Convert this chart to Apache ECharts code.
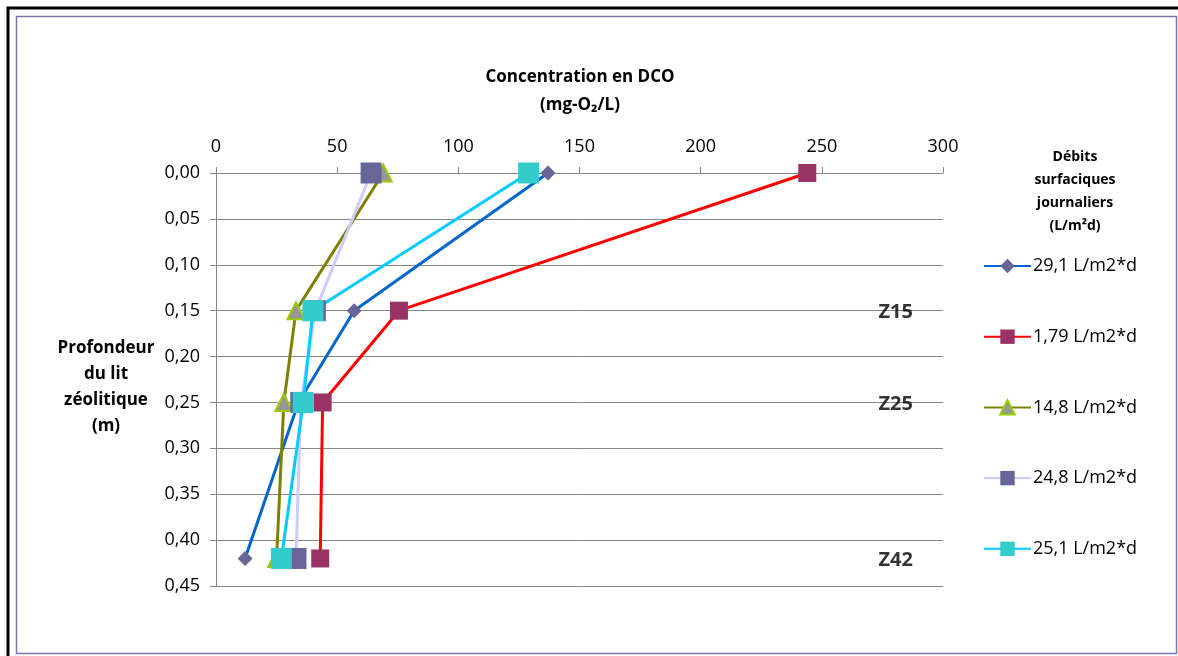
<!DOCTYPE html>
<html>
<head>
<meta charset="utf-8">
<script src="https://cdn.jsdelivr.net/npm/echarts@6/dist/echarts.min.js"></script>
<style>
  html, body { margin: 0; padding: 0; background: #fff; }
  #chart { width: 1178px; height: 656px; }
</style>
</head>
<body>
<div id="chart"></div>
<script>
// profondeur (m) des points de prélèvement
const depths = [0.00, 0.15, 0.25, 0.42]
const seriesNames = ['29,1 L/m2*d', '1,79 L/m2*d', '14,8 L/m2*d', '24,8 L/m2*d', '25,1 L/m2*d']
// concentration DCO (mg-O2/L) pour chaque débit
const dco291 = [137, 57, 34, 12]
const dco179 = [244, 75.5, 44, 43]
const dco148 = [69, 33, 28, 25]
const dco248 = [64, 41, 35, 33]
const dco251 = [129, 40, 36, 27]
const zoneLabels = ['Z15', 'Z25', 'Z42']
const zoneDepths = [0.15, 0.25, 0.42]

const font = '"Open Sans", "DejaVu Sans", sans-serif'
const toPts = vals => vals.map((v, i) => [v, depths[i]])

const chart = echarts.init(document.getElementById('chart'))

const lineSeries = (name, vals, lineColor, symbol, size, itemStyle) => ({
  name, type: 'line', data: toPts(vals),
  symbol, symbolSize: size,
  lineStyle: { color: lineColor, width: 3 },
  itemStyle: Object.assign({ opacity: 1 }, itemStyle),
  emphasis: { disabled: true }
})

chart.setOption({
  animation: false,
  textStyle: { fontFamily: font },
  grid: { left: 216, top: 173, right: 235, bottom: 70 },
  xAxis: {
    type: 'value', position: 'top', min: 0, max: 300, interval: 50,
    axisLine: { show: true, lineStyle: { color: '#868686' } },
    axisTick: { show: true, length: 6, lineStyle: { color: '#868686' } },
    axisLabel: { color: '#000', fontSize: 18, margin: 17, fontFamily: font },
    splitLine: { show: false }
  },
  yAxis: {
    type: 'value', inverse: true, min: 0, max: 0.45, interval: 0.05,
    axisLine: { show: true, lineStyle: { color: '#868686' } },
    axisTick: { show: true, length: 6, lineStyle: { color: '#868686' } },
    axisLabel: {
      color: '#000', fontSize: 18, margin: 16, fontFamily: font,
      formatter: v => v.toFixed(2).replace('.', ',')
    },
    splitLine: { show: true, lineStyle: { color: '#868686' } }
  },
  legend: {
    orient: 'vertical', left: 983, top: 257, padding: 0,
    itemWidth: 47, itemHeight: 18, itemGap: 52.7,
    data: seriesNames,
    textStyle: { color: '#000', fontSize: 18, fontFamily: font, padding: [0, 0, 0, -3] }
  },
  graphic: [
    { type: 'rect', shape: { x: 8, y: 8, width: 1180, height: 660 }, style: { fill: 'none', stroke: '#000', lineWidth: 3 } },
    { type: 'rect', shape: { x: 16.5, y: 16.5, width: 1160, height: 637 }, style: { fill: 'none', stroke: '#7777aa', lineWidth: 1.5 } },
    { type: 'text', x: 580, y: 63, style: { text: 'Concentration en DCO\n(mg-O₂/L)', font: 'bold 17px ' + font, fill: '#000', align: 'center', lineHeight: 28 } },
    { type: 'text', x: 106, y: 335, style: { text: 'Profondeur\ndu lit\nzéolitique\n(m)', font: 'bold 17px ' + font, fill: '#000', align: 'center', lineHeight: 26 } },
    { type: 'text', x: 1075, y: 146, style: { text: 'Débits\nsurfaciques\njournaliers\n(L/m²d)', font: 'bold 14px ' + font, fill: '#000', align: 'center', lineHeight: 23 } }
  ],
  series: [
    lineSeries(seriesNames[0], dco291, '#0066cc', 'diamond', 15, { color: '#666699' }),
    lineSeries(seriesNames[1], dco179, '#ff0000', 'rect', 18, { color: '#993366' }),
    lineSeries(seriesNames[2], dco148, '#808000', 'triangle', 17, { color: '#969696', borderColor: '#99cc00', borderWidth: 2 }),
    lineSeries(seriesNames[3], dco248, '#ccccff', 'rect', 21, { color: '#666699' }),
    lineSeries(seriesNames[4], dco251, '#00ccff', 'rect', 21, { color: '#33cccc' }),
    {
      type: 'scatter', symbolSize: 0, silent: true,
      data: zoneLabels.map((z, i) => ({ value: [280.5, zoneDepths[i]], name: z })),
      label: {
        show: true, position: 'inside', formatter: p => p.name, offset: [0, 2],
        fontSize: 20, fontWeight: 'bold', color: '#000', fontFamily: font,
        textBorderWidth: 0
      }
    }
  ]
})
</script>
</body>
</html>
